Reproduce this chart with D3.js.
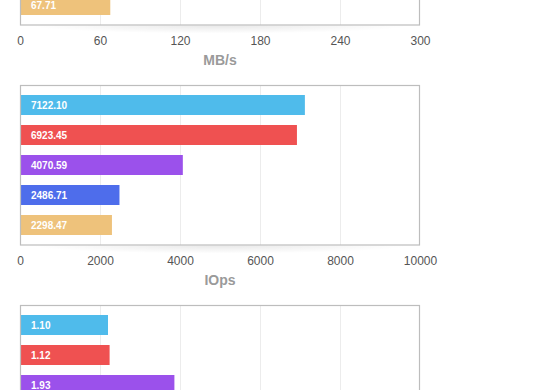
<!DOCTYPE html>
<html>
<head>
<meta charset="utf-8">
<script src="https://cdn.jsdelivr.net/npm/d3@7"></script>
<style>
html,body{margin:0;padding:0;background:#fff;overflow:hidden;}
svg{display:block;}
</style>
</head>
<body>
<svg id="chart" width="560" height="390"></svg>
<script>
// Data
const seriesColors = ["#4fbbeb", "#ef5151", "#9b51eb", "#4e6deb", "#eec27b"];
const bandKeys = ["a", "b", "c", "d", "e"];

const bwValues = [null, null, null, null, 67.71];     // MB/s (only last bar visible)
const bwTicks = [0, 60, 120, 180, 240, 300];
const bwTitle = "MB/s";

const iopsValues = [7122.10, 6923.45, 4070.59, 2486.71, 2298.47];
const iopsTicks = [0, 2000, 4000, 6000, 8000, 10000];
const iopsTitle = "IOps";

const latValues = [1.10, 1.12, 1.93, null, null];   // only first three visible
const latTicks = [0, 1, 2, 3, 4, 5];
const latTitle = "";

const charts = [
  {values: bwValues, ticks: bwTicks, title: bwTitle, top: -135},
  {values: iopsValues, ticks: iopsTicks, title: iopsTitle, top: 85},
  {values: latValues, ticks: latTicks, title: latTitle, top: 305}
];

const svg = d3.select("#chart");
const left = 20, width = 400, plotH = 160;

const defs = svg.append("defs");
const grad = defs.append("radialGradient").attr("id", "shadowGrad")
  .attr("cx", "50%").attr("cy", "0%").attr("r", "50%");
grad.append("stop").attr("offset", "0%").attr("stop-color", "#000").attr("stop-opacity", 0.09);
grad.append("stop").attr("offset", "100%").attr("stop-color", "#000").attr("stop-opacity", 0);

charts.forEach((c, ci) => {
  const g = svg.append("g").attr("transform", `translate(0,${c.top})`);
  const x = d3.scaleLinear().domain([c.ticks[0], c.ticks[c.ticks.length - 1]]).range([left, left + width]);
  const y = d3.scaleBand().domain(bandKeys).range([0, plotH]).paddingInner(1/3).paddingOuter(1/3);

  // shadow below the frame
  g.append("rect")
    .attr("x", left + 10).attr("y", plotH + 0.5)
    .attr("width", width - 20).attr("height", 16)
    .attr("fill", "url(#shadowGrad)");

  g.append("rect").attr("x", left).attr("y", 0).attr("width", width).attr("height", plotH).attr("fill", "#fff");

  // grid
  g.append("g").selectAll("line")
    .data(c.ticks.slice(1, -1))
    .join("line")
    .attr("x1", d => x(d) + 0.5).attr("x2", d => x(d) + 0.5)
    .attr("y1", 0).attr("y2", plotH)
    .attr("stroke", "#ececec").attr("stroke-width", 1);

  const data = c.values.map((v, i) => ({k: bandKeys[i], v, color: seriesColors[i]})).filter(d => d.v != null);

  g.append("g").selectAll("rect")
    .data(data)
    .join("rect")
    .attr("x", x(0) + 1)
    .attr("y", d => y(d.k))
    .attr("width", d => x(d.v) - x(0) - 1)
    .attr("height", y.bandwidth())
    .attr("fill", d => d.color);

  g.append("g").selectAll("text")
    .data(data)
    .join("text")
    .attr("x", x(0) + 11)
    .attr("y", d => y(d.k) + y.bandwidth() / 2)
    .attr("dy", "0.36em")
    .attr("fill", "#fff")
    .attr("font-family", "Liberation Sans, Arial, sans-serif")
    .attr("font-size", 10)
    .attr("font-weight", "bold")
    .text(d => d.v.toFixed(2));

  // frame
  g.append("rect").attr("x", left + 0.5).attr("y", 0.5).attr("width", width - 1).attr("height", plotH - 0.5)
    .attr("fill", "none").attr("stroke", "#bdbdbd").attr("stroke-width", 1.2);

  // axis
  const axis = d3.axisBottom(x).tickValues(c.ticks).tickSize(0).tickPadding(0).tickFormat(d3.format("d"));
  const ax = g.append("g").attr("transform", `translate(0,${plotH + 11})`).call(axis);
  ax.select(".domain").remove();
  ax.selectAll("text")
    .attr("fill", "#555")
    .attr("font-family", "Liberation Sans, Arial, sans-serif")
    .attr("font-size", 12)
    .attr("dy", "0.71em");

  if (c.title) {
    g.append("text")
      .attr("x", left + width / 2)
      .attr("y", plotH + 35)
      .attr("dy", "0.36em")
      .attr("text-anchor", "middle")
      .attr("fill", "#9a9a9a")
      .attr("font-family", "Liberation Sans, Arial, sans-serif")
      .attr("font-size", 14)
      .attr("font-weight", "bold")
      .text(c.title);
  }
});
</script>
</body>
</html>
